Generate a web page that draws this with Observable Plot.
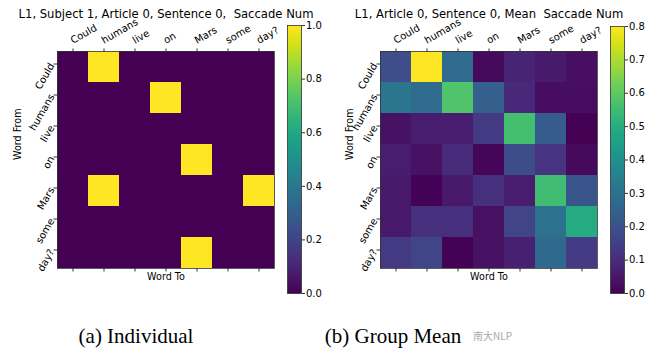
<!DOCTYPE html>
<html><head><meta charset="utf-8">
<script src="https://cdn.jsdelivr.net/npm/d3@7"></script>
<script src="https://cdn.jsdelivr.net/npm/@observablehq/plot@0.6"></script>
<style>
body{margin:0;background:#fff;}
#wrap{position:relative;width:656px;height:356px;overflow:hidden;background:#fff;}
#wrap > svg{position:absolute;top:0;}
.cap{position:absolute;font-family:"Liberation Serif",serif;font-size:21px;line-height:21px;white-space:nowrap;color:#000;transform:translateX(-50%);}
.wm{position:absolute;font-family:"Noto Sans CJK SC","Noto Sans",sans-serif;font-size:10px;line-height:10px;color:#a8a8a8;white-space:nowrap;}
</style></head><body><div id="wrap"></div>
<script>
const words = ["Could","humans","live","on","Mars","some","day?"];
// rows = Word From, columns = Word To
const individual = [
  [0,1,0,0,0,0,0],
  [0,0,0,1,0,0,0],
  [0,0,0,0,0,0,0],
  [0,0,0,0,1,0,0],
  [0,1,0,0,0,0,1],
  [0,0,0,0,0,0,0],
  [0,0,0,0,1,0,0]
];
const groupMean = [
  [0.19, 0.80, 0.28, 0.02, 0.08, 0.055, 0.03],
  [0.31, 0.28, 0.58, 0.24, 0.09, 0.025, 0.025],
  [0.035, 0.06, 0.06, 0.135, 0.56, 0.23, 0.0],
  [0.06, 0.035, 0.095, 0.01, 0.185, 0.12, 0.02],
  [0.05, 0.005, 0.05, 0.11, 0.065, 0.555, 0.21],
  [0.05, 0.11, 0.11, 0.032, 0.16, 0.30, 0.49],
  [0.135, 0.165, 0.004, 0.035, 0.07, 0.27, 0.14]
];
const ticksIndividual = [0, 0.2, 0.4, 0.6, 0.8, 1.0];
const ticksMean = [0, 0.1, 0.2, 0.3, 0.4, 0.5, 0.6, 0.7, 0.8];
const titleIndividual = "L1, Subject 1, Article 0, Sentence 0,  Saccade Num";
const titleMean = "L1, Article 0, Sentence 0, Mean  Saccade Num";
const captions = ["(a) Individual", "(b) Group Mean"];

const baseStyle = {fontFamily: "'DejaVu Sans', sans-serif", fontSize: "10px", background: "transparent", overflow: "visible", color: "#000", whiteSpace: "pre"};

function heatmap(matrix, vmax, title, o) {
  const data = [];
  matrix.forEach((row, i) => row.forEach((v, j) => data.push({from: words[i], to: words[j], value: v})));
  const svg = Plot.plot({
    width: o.width, height: 300,
    marginLeft: o.marginLeft, marginRight: o.marginRight, marginTop: 51, marginBottom: 32,
    style: baseStyle,
    x: {domain: words, padding: 0, label: null},
    y: {domain: words, padding: 0, label: null},
    color: {type: "linear", scheme: "viridis", domain: [0, vmax], clamp: true},
    marks: [
      Plot.cell(data, {x: "to", y: "from", fill: "value", inset: 0, shapeRendering: "crispEdges"}),
      Plot.frame({stroke: "#333", strokeWidth: 0.8}),
      Plot.axisX({anchor: "top", tickSize: 3.5, tickPadding: 4, tickRotate: -30, textAnchor: "start", lineAnchor: "bottom", label: null, stroke: "#333"}),
      Plot.axisX({anchor: "bottom", tickSize: 3.5, tickFormat: () => "", label: null, stroke: "#333"}),
      Plot.axisY({anchor: "left", tickSize: 3.5, tickPadding: 2, tickRotate: -60, textAnchor: "end", lineAnchor: "middle", dy: -3, label: null, stroke: "#333"}),
      Plot.text([title], {text: d => d, frameAnchor: "top", dy: -34, lineAnchor: "bottom", fontSize: 11.6}),
      Plot.text(["Word To"], {text: d => d, frameAnchor: "bottom", dy: 11, lineAnchor: "bottom", fontSize: 9.6}),
      Plot.text(["Word From"], {text: d => d, frameAnchor: "left", dx: o.ylabelDx, rotate: -90, fontSize: 9.6})
    ]
  });
  svg.style.left = o.left + "px";
  return svg;
}

function colorbar(vmax, ticks, o) {
  const svg = Plot.plot({
    width: o.width, height: 300,
    marginLeft: o.marginLeft, marginRight: o.marginRight, marginTop: o.marginTop, marginBottom: 7,
    style: baseStyle,
    x: {domain: [0, 1], axis: null},
    y: {domain: [0, vmax], label: null},
    color: {type: "linear", scheme: "viridis", domain: [0, vmax]},
    marks: [
      Plot.raster({x1: 0, x2: 1, y1: 0, y2: vmax, fill: (x, y) => y}),
      Plot.frame({stroke: "#333", strokeWidth: 0.8}),
      Plot.axisY({anchor: "right", ticks, tickFormat: ".1f", tickSize: 3, tickPadding: 1.5, label: null, stroke: "#333"})
    ]
  });
  svg.style.left = o.left + "px";
  return svg;
}

const wrap = document.getElementById("wrap");
wrap.appendChild(heatmap(individual, 1, titleIndividual, {left: 0, width: 282, marginLeft: 57, marginRight: 8, ylabelDx: -40}));
wrap.appendChild(colorbar(1, ticksIndividual, {left: 282, width: 48, marginLeft: 5, marginRight: 29, marginTop: 25}));
wrap.appendChild(heatmap(groupMean, 0.8, titleMean, {left: 330, width: 273, marginLeft: 50, marginRight: 6, ylabelDx: -31}));
wrap.appendChild(colorbar(0.8, ticksMean, {left: 603, width: 53, marginLeft: 7, marginRight: 32, marginTop: 26}));

const capX = [136, 393];
captions.forEach((c, i) => {
  const d = document.createElement("div");
  d.className = "cap";
  d.textContent = c;
  d.style.left = capX[i] + "px";
  d.style.top = "326px";
  wrap.appendChild(d);
});
const wm = document.createElement("div");
wm.className = "wm";
wm.textContent = "南大NLP";
wm.style.left = "473px";
wm.style.top = "331px";
wrap.appendChild(wm);
</script></body></html>
